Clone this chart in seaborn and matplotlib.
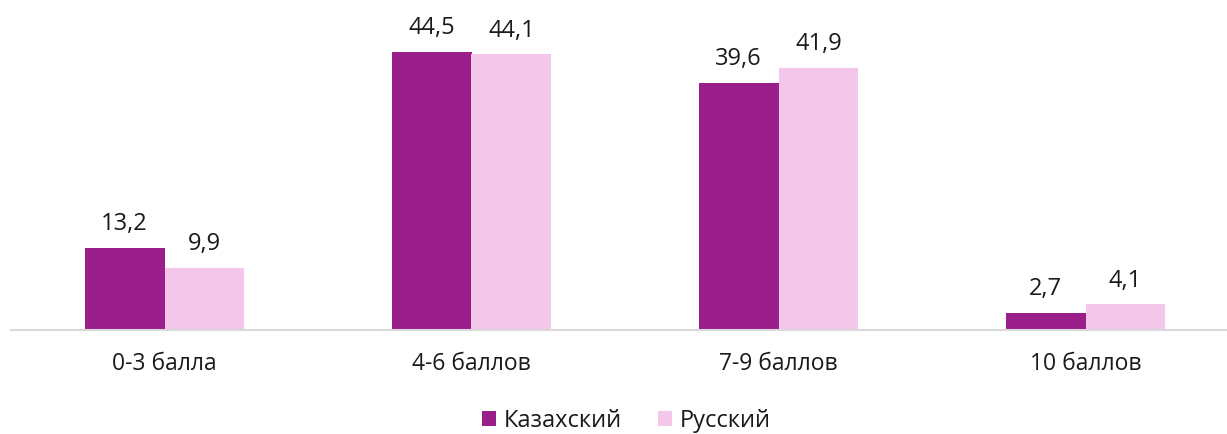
import matplotlib
matplotlib.use('Agg')
import matplotlib.pyplot as plt
import seaborn as sns
import pandas as pd

categories = ['0-3 балла', '4-6 баллов', '7-9 баллов', '10 баллов']
kazakh = [13.2, 44.5, 39.6, 2.7]
russian = [9.9, 44.1, 41.9, 4.1]
series = ['Казахский', 'Русский']
colors = ['#9B1F8A', '#F4C6EA']

df = pd.DataFrame({
    'cat': categories * 2,
    'val': kazakh + russian,
    'lang': [series[0]] * 4 + [series[1]] * 4,
})

sns.set_style('white')
plt.rcParams['font.family'] = ['Open Sans', 'DejaVu Sans']

fig = plt.figure(figsize=(12.27, 4.34), dpi=100)
ax = fig.add_axes([11 / 1227, 104 / 434, 1216 / 1227, 312.5 / 434])

sns.barplot(data=df, x='cat', y='val', hue='lang', palette=colors,
            width=0.52, saturation=1, linewidth=0, ax=ax, legend=True)

# value labels with decimal comma
for cont in ax.containers:
    ax.bar_label(cont, labels=[f'{v:.1f}'.replace('.', ',') for v in cont.datavalues],
                 padding=8.5, fontsize=17, color='#1a1a1a')

ax.set_xlim(-0.5, -0.5 + 1216 / 307)
ax.set_ylim(0, 50)
ax.set_xlabel('')
ax.set_ylabel('')
ax.set_yticks([])
ax.tick_params(axis='x', length=0, pad=16, labelsize=16.5, labelcolor='#1a1a1a')
for s in ['top', 'right', 'left']:
    ax.spines[s].set_visible(False)
ax.spines['bottom'].set_color('#d9d9d9')
ax.spines['bottom'].set_linewidth(1.5)

handles, labels = ax.get_legend_handles_labels()
ax.get_legend().remove()
fig.legend(handles, labels, loc='center', bbox_to_anchor=(0.5106, 0.03), ncol=2,
           frameon=False, fontsize=17, handlelength=0.6, handleheight=0.6,
           handletextpad=0.34, columnspacing=1.5, labelcolor='#1a1a1a',
           borderpad=0)

fig.savefig('out.png', dpi=100)
